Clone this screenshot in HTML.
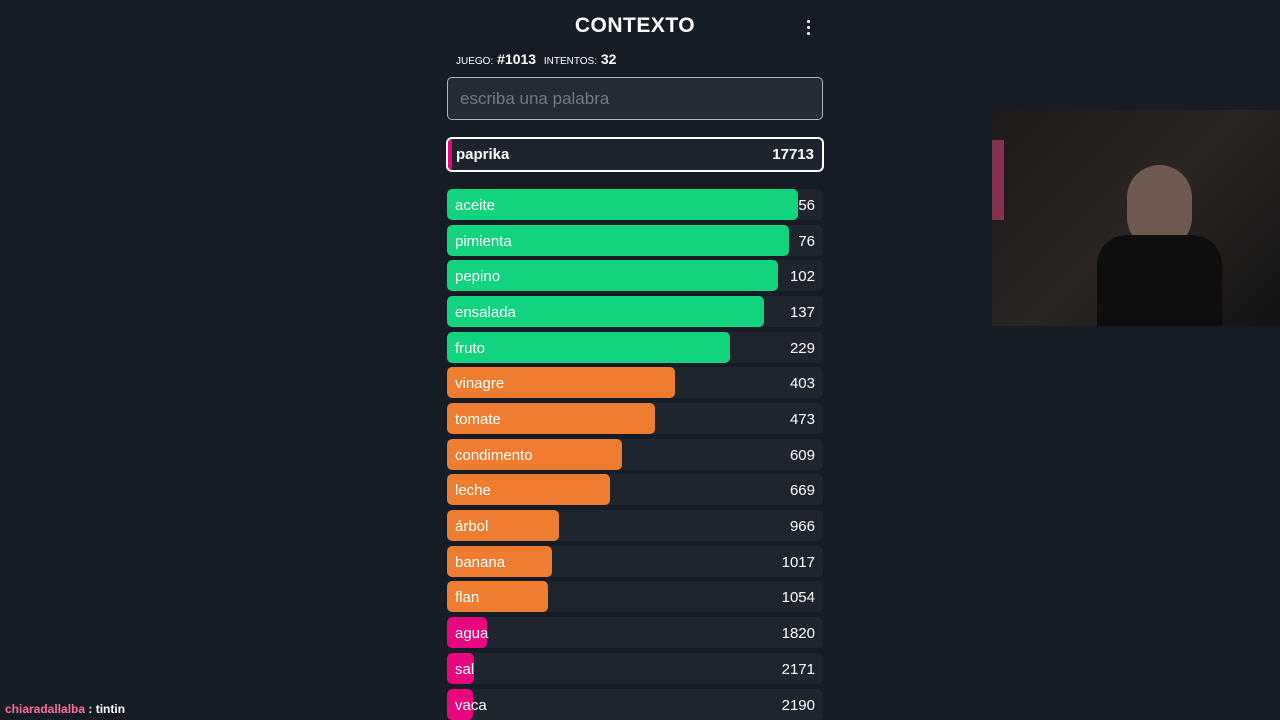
<!DOCTYPE html>
<html><head><meta charset="utf-8"><style>
body{margin:0;width:1280px;height:720px;background:#151c25;overflow:hidden;font-family:"Liberation Sans",sans-serif;color:#fff;position:relative}
.abs{position:absolute}
#title{left:0;width:1270px;text-align:center;top:14px;font-size:21px;font-weight:bold;letter-spacing:0.5px}
#menu{left:807px;top:20px;width:4px}
#menu i{display:block;width:3px;height:3px;background:#fff;border-radius:2px;margin-bottom:3px}
#info{left:456px;top:51px;font-size:14px;font-weight:bold}
#info small{font-size:10px;font-weight:normal}
#input{left:447px;top:77px;width:376px;height:43px;border:1.5px solid #aeb4bb;border-radius:5px;background:#232b36;box-sizing:border-box;color:#737b85;font-size:17px;line-height:41px;padding-left:12px}
#guess{left:446px;top:137px;width:378px;height:35px;border:2px solid #fff;border-radius:6px;box-sizing:border-box;background:#1d242e;overflow:hidden}
.row{position:absolute;left:447px;width:376px;height:31px;background:#1e252f;border-radius:5px;overflow:hidden}
.bar{position:absolute;left:0;top:0;height:31px;border-radius:5px}
.w{position:absolute;left:8px;top:1px;line-height:31px;font-size:15px}
.n{position:absolute;right:8px;top:1px;line-height:31px;font-size:15px}
#cam{left:992px;top:110px;width:288px;height:216px;background:linear-gradient(135deg,#1e1a18,#2a2522 50%,#141312)}
#chat{left:5px;top:702px;font-size:12px;font-weight:bold}
</style></head><body>
<div id="title" class="abs">CONTEXTO</div>
<div id="menu" class="abs"><i></i><i></i><i></i></div>
<div id="info" class="abs"><small>JUEGO:</small> #1013 &nbsp;<small>INTENTOS:</small> 32</div>
<div id="input" class="abs">escriba una palabra</div>
<div id="guess" class="abs">
 <div style="position:absolute;left:0;top:0;width:4px;height:100%;background:#e8067f"></div>
 <div class="w" style="top:0;line-height:31px;font-weight:bold">paprika</div>
 <div class="n" style="top:0;line-height:31px;font-weight:bold">17713</div>
</div>
<div id="list"></div>
<div id="cam" class="abs">
 <div style="position:absolute;left:0;top:30px;width:12px;height:80px;background:#b03a6a;opacity:.7"></div>
 <div style="position:absolute;left:135px;top:55px;width:65px;height:85px;border-radius:40px;background:#6e5a50"></div>
 <div style="position:absolute;left:105px;top:125px;width:125px;height:91px;border-radius:30px 30px 0 0;background:#0e0e0e"></div>
</div>
<div id="chat" class="abs"><span style="color:#ff6d9a">chiaradallalba</span> : tintin</div>
<script>
const words=["aceite","pimienta","pepino","ensalada","fruto","vinagre","tomate","condimento","leche","árbol","banana","flan","agua","sal","vaca"];
const ranks=[56,76,102,137,229,403,473,609,669,966,1017,1054,1820,2171,2190];
const fill=[0.934,0.91,0.88,0.843,0.753,0.606,0.553,0.465,0.434,0.298,0.279,0.269,0.106,0.072,0.069];
function color(r){return r<300?"#12d37e":r<1500?"#ef7d31":"#e8067f";}
const list=document.getElementById('list');
words.forEach((w,i)=>{
 const row=document.createElement('div');row.className='row';
 
 
 row.style.top=(189+i*35.68)+'px';
 const b=document.createElement('div');b.className='bar';
 
 
 b.style.width=(fill[i]*376)+'px';b.style.background=color(ranks[i]);
 const t=document.createElement('div');t.className='w';t.textContent=w;
 
 
 const n=document.createElement('div');n.className='n';n.textContent=ranks[i];
 
 
 row.append(b,t,n);list.appendChild(row);
});
</script>
</body></html>
